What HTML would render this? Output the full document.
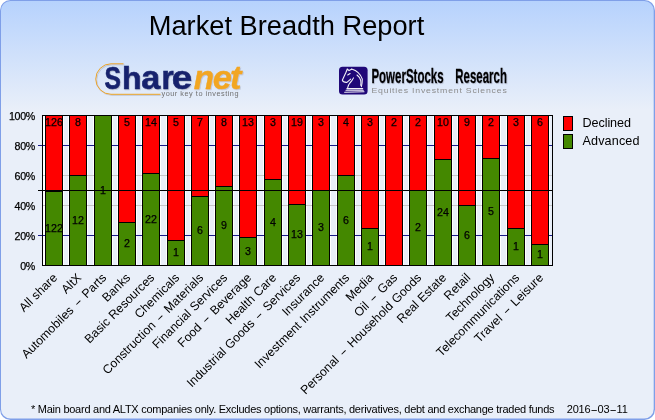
<!DOCTYPE html>
<html lang="en"><head><meta charset="utf-8"><title>Market Breadth Report</title>
<style>html,body{margin:0;padding:0;background:#fff}svg{display:block}text{font-family:'Liberation Sans', sans-serif}</style>
</head><body>
<svg width="655" height="420" viewBox="0 0 655 420">
<defs>
<linearGradient id="bg" x1="0" y1="0" x2="0" y2="1"><stop offset="0" stop-color="#b6d2fd"/><stop offset="0.26" stop-color="#e9eff9"/><stop offset="1" stop-color="#e9eff9"/></linearGradient>
<filter id="sh" x="-10%" y="-10%" width="120%" height="130%"><feDropShadow dx="0.8" dy="0.9" stdDeviation="0.7" flood-color="#556" flood-opacity="0.26"/></filter>
</defs>
<rect x="0" y="0" width="655" height="420" rx="10.5" ry="10.5" fill="#7f9fe8"/>
<rect x="1" y="1" width="652.7" height="417.6" rx="9.5" ry="9.5" fill="url(#bg)"/>
<text x="286.5" y="35" font-size="27" text-anchor="middle" textLength="275.4" lengthAdjust="spacingAndGlyphs" fill="#000">Market Breadth Report</text>
<g filter="url(#sh)">
<path d="M123.5 63.8 H111 A15.25 15.25 0 0 0 111 94.3 H160.5" fill="none" stroke="#eaa326" stroke-width="1"/>
<text y="89.3" font-size="32" font-weight="bold" fill="#17246e" stroke="#17246e" stroke-width="0.6"><tspan x="104.5" textLength="16.4" lengthAdjust="spacingAndGlyphs">S</tspan><tspan x="122">h</tspan><tspan x="141.2" font-size="33.6" textLength="19" lengthAdjust="spacingAndGlyphs">a</tspan><tspan x="161.5" font-size="33.6" textLength="12.2" lengthAdjust="spacingAndGlyphs">r</tspan><tspan x="171.8" font-size="33.6" textLength="20.5" lengthAdjust="spacingAndGlyphs">e</tspan></text>
<text y="89.3" font-size="33.5" font-weight="bold" font-style="italic" fill="#f2a622" stroke="#f2a622" stroke-width="0.4"><tspan x="193.7" textLength="20.3" lengthAdjust="spacingAndGlyphs">n</tspan><tspan x="212.7" textLength="19.2" lengthAdjust="spacingAndGlyphs">e</tspan><tspan x="230" textLength="11.4" lengthAdjust="spacingAndGlyphs">t</tspan></text>
</g>
<text x="161.5" y="95.6" font-size="7.3" fill="#707070" textLength="77" lengthAdjust="spacing">your key to investing</text>
<rect x="339" y="66.8" width="28.6" height="27.8" rx="3.5" ry="3.5" fill="#200878"/>
<g fill="none" stroke="#fff" stroke-width="1.1" stroke-linecap="round" stroke-linejoin="round" opacity="0.95">
<path d="M351.6 69.3 L349.0 70.6 L347.3 69.0 L346.0 72.3 L342.3 80.2 Q343.0 82.6 346.9 82.4 L350.7 79.1"/>
<path d="M351.6 69.0 Q359.7 71.4 362.3 79.1 Q362.3 83.4 361.4 86.7"/>
<path d="M357.0 75.0 Q360.1 77.4 360.7 80.4 Q361.2 83.0 360.7 85.3"/>
<path d="M353.5 77.9 Q352.4 80.4 349.9 83.0 Q348.1 85.1 347.7 87.7"/>
<path d="M347.7 75.0 L350.1 73.6"/>
<path d="M346.9 88.6 L362.7 88.6 M346.0 90.3 L363.3 90.3 M344.7 92.2 L364.0 91.8"/>
</g>
<g filter="url(#sh)"><text y="83.4" font-size="20.5" font-weight="bold" fill="#000" stroke="#000" stroke-width="0.35"><tspan x="371.4" textLength="72.2" lengthAdjust="spacingAndGlyphs">PowerStocks</tspan> <tspan x="455.3" textLength="51.6" lengthAdjust="spacingAndGlyphs">Research</tspan></text></g>
<text transform="translate(371.5,93) scale(1.12,1)" font-size="7.8" fill="#8c8c8c" textLength="120.8" lengthAdjust="spacing">Equities Investment Sciences</text>
<g shape-rendering="crispEdges">
<rect x="43" y="116" width="509" height="149" fill="#e9eff9"/>
<rect x="43" y="116" width="2" height="149" fill="#fff"/>
<rect x="44" y="116" width="20" height="149" fill="#fff"/>
<rect x="68" y="116" width="20" height="149" fill="#fff"/>
<rect x="93" y="116" width="20" height="149" fill="#fff"/>
<rect x="117" y="116" width="20" height="149" fill="#fff"/>
<rect x="141" y="116" width="20" height="149" fill="#fff"/>
<rect x="166" y="116" width="20" height="149" fill="#fff"/>
<rect x="190" y="116" width="20" height="149" fill="#fff"/>
<rect x="214" y="116" width="20" height="149" fill="#fff"/>
<rect x="238" y="116" width="20" height="149" fill="#fff"/>
<rect x="263" y="116" width="20" height="149" fill="#fff"/>
<rect x="287" y="116" width="20" height="149" fill="#fff"/>
<rect x="311" y="116" width="20" height="149" fill="#fff"/>
<rect x="336" y="116" width="20" height="149" fill="#fff"/>
<rect x="360" y="116" width="20" height="149" fill="#fff"/>
<rect x="384" y="116" width="20" height="149" fill="#fff"/>
<rect x="408" y="116" width="20" height="149" fill="#fff"/>
<rect x="433" y="116" width="20" height="149" fill="#fff"/>
<rect x="457" y="116" width="20" height="149" fill="#fff"/>
<rect x="481" y="116" width="20" height="149" fill="#fff"/>
<rect x="506" y="116" width="20" height="149" fill="#fff"/>
<rect x="530" y="116" width="20" height="149" fill="#fff"/>
<rect x="38" y="145" width="514" height="1" fill="#1a1a8c"/>
<rect x="43" y="175" width="509" height="1" fill="#c8c8c8"/>
<rect x="43" y="205" width="509" height="1" fill="#c8c8c8"/>
<rect x="38" y="235" width="514" height="1" fill="#1a1a8c"/>
<rect x="45" y="115" width="18" height="151" fill="#000"/>
<rect x="46" y="116" width="16" height="75" fill="#ff0000"/>
<rect x="46" y="192" width="16" height="73" fill="#448800"/>
<rect x="69" y="115" width="18" height="151" fill="#000"/>
<rect x="70" y="116" width="16" height="59" fill="#ff0000"/>
<rect x="70" y="176" width="16" height="89" fill="#448800"/>
<rect x="94" y="115" width="18" height="151" fill="#000"/>
<rect x="95" y="116" width="16" height="149" fill="#448800"/>
<rect x="118" y="115" width="18" height="151" fill="#000"/>
<rect x="119" y="116" width="16" height="106" fill="#ff0000"/>
<rect x="119" y="223" width="16" height="42" fill="#448800"/>
<rect x="142" y="115" width="18" height="151" fill="#000"/>
<rect x="143" y="116" width="16" height="57" fill="#ff0000"/>
<rect x="143" y="174" width="16" height="91" fill="#448800"/>
<rect x="167" y="115" width="18" height="151" fill="#000"/>
<rect x="168" y="116" width="16" height="124" fill="#ff0000"/>
<rect x="168" y="241" width="16" height="24" fill="#448800"/>
<rect x="191" y="115" width="18" height="151" fill="#000"/>
<rect x="192" y="116" width="16" height="80" fill="#ff0000"/>
<rect x="192" y="197" width="16" height="68" fill="#448800"/>
<rect x="215" y="115" width="18" height="151" fill="#000"/>
<rect x="216" y="116" width="16" height="70" fill="#ff0000"/>
<rect x="216" y="187" width="16" height="78" fill="#448800"/>
<rect x="239" y="115" width="18" height="151" fill="#000"/>
<rect x="240" y="116" width="16" height="121" fill="#ff0000"/>
<rect x="240" y="238" width="16" height="27" fill="#448800"/>
<rect x="264" y="115" width="18" height="151" fill="#000"/>
<rect x="265" y="116" width="16" height="63" fill="#ff0000"/>
<rect x="265" y="180" width="16" height="85" fill="#448800"/>
<rect x="288" y="115" width="18" height="151" fill="#000"/>
<rect x="289" y="116" width="16" height="88" fill="#ff0000"/>
<rect x="289" y="205" width="16" height="60" fill="#448800"/>
<rect x="312" y="115" width="18" height="151" fill="#000"/>
<rect x="313" y="116" width="16" height="74" fill="#ff0000"/>
<rect x="313" y="191" width="16" height="74" fill="#448800"/>
<rect x="337" y="115" width="18" height="151" fill="#000"/>
<rect x="338" y="116" width="16" height="59" fill="#ff0000"/>
<rect x="338" y="176" width="16" height="89" fill="#448800"/>
<rect x="361" y="115" width="18" height="151" fill="#000"/>
<rect x="362" y="116" width="16" height="112" fill="#ff0000"/>
<rect x="362" y="229" width="16" height="36" fill="#448800"/>
<rect x="385" y="115" width="18" height="151" fill="#000"/>
<rect x="386" y="116" width="16" height="149" fill="#ff0000"/>
<rect x="409" y="115" width="18" height="151" fill="#000"/>
<rect x="410" y="116" width="16" height="74" fill="#ff0000"/>
<rect x="410" y="191" width="16" height="74" fill="#448800"/>
<rect x="434" y="115" width="18" height="151" fill="#000"/>
<rect x="435" y="116" width="16" height="43" fill="#ff0000"/>
<rect x="435" y="160" width="16" height="105" fill="#448800"/>
<rect x="458" y="115" width="18" height="151" fill="#000"/>
<rect x="459" y="116" width="16" height="89" fill="#ff0000"/>
<rect x="459" y="206" width="16" height="59" fill="#448800"/>
<rect x="482" y="115" width="18" height="151" fill="#000"/>
<rect x="483" y="116" width="16" height="42" fill="#ff0000"/>
<rect x="483" y="159" width="16" height="106" fill="#448800"/>
<rect x="507" y="115" width="18" height="151" fill="#000"/>
<rect x="508" y="116" width="16" height="112" fill="#ff0000"/>
<rect x="508" y="229" width="16" height="36" fill="#448800"/>
<rect x="531" y="115" width="18" height="151" fill="#000"/>
<rect x="532" y="116" width="16" height="128" fill="#ff0000"/>
<rect x="532" y="245" width="16" height="20" fill="#448800"/>
<rect x="42" y="115" width="511" height="1" fill="#000"/>
<rect x="42" y="265" width="511" height="1" fill="#000"/>
<rect x="42" y="115" width="1" height="151" fill="#000"/>
<rect x="552" y="115" width="1" height="151" fill="#000"/>
<rect x="38" y="190" width="514" height="1" fill="#000"/>
<rect x="563" y="116" width="10" height="15" fill="#000"/><rect x="564" y="117" width="8" height="13" fill="#ff0000"/>
<rect x="563" y="134" width="10" height="15" fill="#000"/><rect x="564" y="135" width="8" height="13" fill="#448800"/>
</g>
<g font-size="10.67" text-anchor="middle" fill="#000" stroke="#000" stroke-width="0.25">
<text x="54.0" y="126.0">126</text>
<text x="54.0" y="231.5">122</text>
<text x="78.0" y="126.0">8</text>
<text x="78.0" y="223.5">12</text>
<text x="103.0" y="193.5">1</text>
<text x="127.0" y="126.0">5</text>
<text x="127.0" y="247.0">2</text>
<text x="151.0" y="126.0">14</text>
<text x="151.0" y="222.5">22</text>
<text x="176.0" y="126.0">5</text>
<text x="176.0" y="256.0">1</text>
<text x="200.0" y="126.0">7</text>
<text x="200.0" y="234.0">6</text>
<text x="224.0" y="126.0">8</text>
<text x="224.0" y="229.0">9</text>
<text x="248.0" y="126.0">13</text>
<text x="248.0" y="254.5">3</text>
<text x="273.0" y="126.0">3</text>
<text x="273.0" y="225.5">4</text>
<text x="297.0" y="126.0">19</text>
<text x="297.0" y="238.0">13</text>
<text x="321.0" y="126.0">3</text>
<text x="321.0" y="231.0">3</text>
<text x="346.0" y="126.0">4</text>
<text x="346.0" y="223.5">6</text>
<text x="370.0" y="126.0">3</text>
<text x="370.0" y="250.0">1</text>
<text x="394.0" y="126.0">2</text>
<text x="418.0" y="126.0">2</text>
<text x="418.0" y="231.0">2</text>
<text x="443.0" y="126.0">10</text>
<text x="443.0" y="215.5">24</text>
<text x="467.0" y="126.0">9</text>
<text x="467.0" y="238.5">6</text>
<text x="491.0" y="126.0">2</text>
<text x="491.0" y="215.0">5</text>
<text x="516.0" y="126.0">3</text>
<text x="516.0" y="250.0">1</text>
<text x="540.0" y="126.0">6</text>
<text x="540.0" y="258.0">1</text>
</g>
<g font-size="10.67" text-anchor="end" fill="#000" letter-spacing="-0.3" stroke="#000" stroke-width="0.25">
<text x="35" y="119.6">100%</text>
<text x="35" y="149.6">80%</text>
<text x="35" y="179.6">60%</text>
<text x="35" y="209.6">40%</text>
<text x="35" y="239.6">20%</text>
<text x="35" y="269.6">0%</text>
</g>
<g font-size="12.3" text-anchor="end" fill="#000" word-spacing="0.4">
<text transform="translate(58.1,278.4) rotate(-45)">All share</text>
<text transform="translate(82.1,278.4) rotate(-45)">AltX</text>
<text transform="translate(107.1,278.4) rotate(-45)">Automobiles <tspan dx="1.2" textLength="7.6" lengthAdjust="spacingAndGlyphs">-</tspan> <tspan dx="1.2">Parts</tspan></text>
<text transform="translate(131.1,278.4) rotate(-45)">Banks</text>
<text transform="translate(155.1,278.4) rotate(-45)">Basic Resources</text>
<text transform="translate(180.1,278.4) rotate(-45)">Chemicals</text>
<text transform="translate(204.1,278.4) rotate(-45)">Construction <tspan dx="1.2" textLength="7.6" lengthAdjust="spacingAndGlyphs">-</tspan> <tspan dx="1.2">Materials</tspan></text>
<text transform="translate(228.1,278.4) rotate(-45)">Financial Services</text>
<text transform="translate(252.1,278.4) rotate(-45)">Food <tspan dx="1.2" textLength="7.6" lengthAdjust="spacingAndGlyphs">-</tspan> <tspan dx="1.2">Beverage</tspan></text>
<text transform="translate(277.1,278.4) rotate(-45)">Health Care</text>
<text transform="translate(301.1,278.4) rotate(-45)">Industrial Goods <tspan dx="1.2" textLength="7.6" lengthAdjust="spacingAndGlyphs">-</tspan> <tspan dx="1.2">Services</tspan></text>
<text transform="translate(325.1,278.4) rotate(-45)">Insurance</text>
<text transform="translate(350.1,278.4) rotate(-45)">Investment Instruments</text>
<text transform="translate(374.1,278.4) rotate(-45)">Media</text>
<text transform="translate(398.1,278.4) rotate(-45)">Oil <tspan dx="1.2" textLength="7.6" lengthAdjust="spacingAndGlyphs">-</tspan> <tspan dx="1.2">Gas</tspan></text>
<text transform="translate(422.1,278.4) rotate(-45)">Personal <tspan dx="1.2" textLength="7.6" lengthAdjust="spacingAndGlyphs">-</tspan> <tspan dx="1.2">Household Goods</tspan></text>
<text transform="translate(447.1,278.4) rotate(-45)">Real Estate</text>
<text transform="translate(471.1,278.4) rotate(-45)">Retail</text>
<text transform="translate(495.1,278.4) rotate(-45)">Technology</text>
<text transform="translate(520.1,278.4) rotate(-45)">Telecommunications</text>
<text transform="translate(544.1,278.4) rotate(-45)">Travel <tspan dx="1.2" textLength="7.6" lengthAdjust="spacingAndGlyphs">-</tspan> <tspan dx="1.2">Leisure</tspan></text>
</g>
<text x="582.5" y="127" font-size="12.6" fill="#000" textLength="48.5" lengthAdjust="spacing">Declined</text>
<text x="582.5" y="145" font-size="12.6" fill="#000" textLength="57" lengthAdjust="spacing">Advanced</text>
<text x="31" y="413" font-size="11" fill="#000" textLength="523.5" lengthAdjust="spacing">* Main board and ALTX companies only. Excludes options, warrants, derivatives, debt and exchange traded funds</text>
<text x="566.7" y="413" font-size="11" fill="#000" letter-spacing="-0.15">2016<tspan textLength="7" lengthAdjust="spacingAndGlyphs">-</tspan>03<tspan textLength="7" lengthAdjust="spacingAndGlyphs">-</tspan>11</text>
</svg>
</body></html>
